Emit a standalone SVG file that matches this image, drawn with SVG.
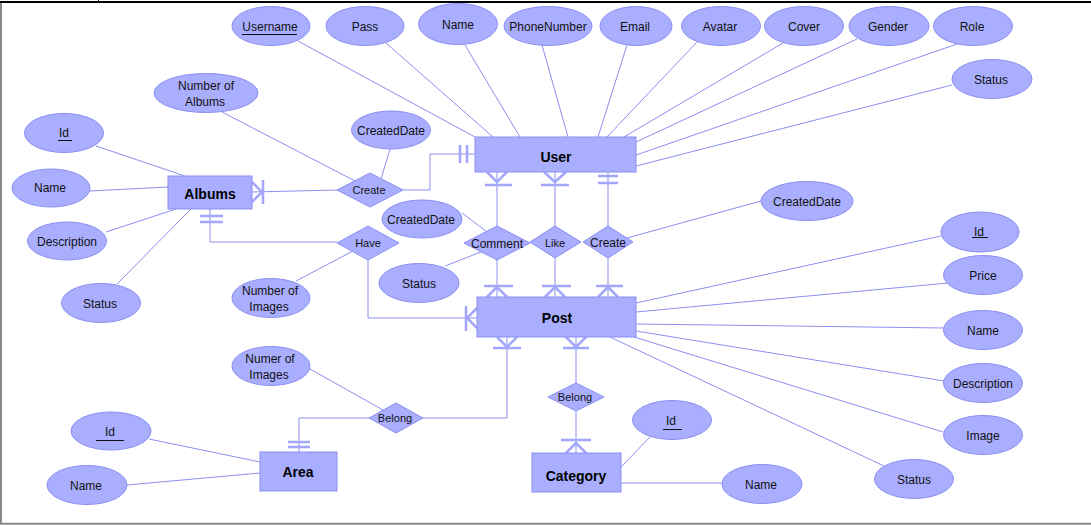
<svg xmlns="http://www.w3.org/2000/svg" width="1091" height="525" viewBox="0 0 1091 525">
<style>
.shape{fill:#aaaeff;stroke:#8a8ef2;stroke-width:1}
.ln{stroke:#8a8ef2;stroke-width:1;fill:none}
.cf{stroke:#a3a7fb;stroke-width:2.5;fill:none}
.ul{stroke:#111;stroke-width:1}
.t{font-family:"Liberation Sans",Arial,sans-serif;font-size:12px;fill:#111;text-anchor:middle}
.ts{font-family:"Liberation Sans",Arial,sans-serif;font-size:11px;fill:#111;text-anchor:middle}
.tb{font-family:"Liberation Sans",Arial,sans-serif;font-size:14px;font-weight:bold;fill:#000;text-anchor:middle}
</style>
<rect x="0" y="0" width="1091" height="525" fill="#ffffff"/>
<g id="frame">
<line x1="98.5" y1="0" x2="98.5" y2="1.5" stroke="#000" stroke-width="1"/>
<line x1="0" y1="2" x2="1091" y2="2" stroke="#000" stroke-width="2"/>
<line x1="1" y1="3" x2="1" y2="523" stroke="#888" stroke-width="2"/>
<line x1="0" y1="523.7" x2="1091" y2="523.7" stroke="#888" stroke-width="2"/>
</g>
<g id="connectors">
<!-- User attributes -->
<line class="ln" x1="298" y1="41" x2="475" y2="137"/>
<line class="ln" x1="386" y1="43" x2="493" y2="137"/>
<line class="ln" x1="465" y1="45" x2="520" y2="137"/>
<line class="ln" x1="542" y1="45" x2="568" y2="137"/>
<line class="ln" x1="627" y1="45" x2="598" y2="137"/>
<line class="ln" x1="697" y1="42" x2="607" y2="137"/>
<line class="ln" x1="783" y1="43" x2="624" y2="137"/>
<line class="ln" x1="857" y1="39" x2="636" y2="142"/>
<line class="ln" x1="957" y1="44" x2="636" y2="155"/>
<line class="ln" x1="952" y1="85" x2="636" y2="166"/>
<!-- Albums attributes -->
<line class="ln" x1="96" y1="146" x2="185" y2="176"/>
<line class="ln" x1="90" y1="191" x2="168" y2="187"/>
<line class="ln" x1="106" y1="232" x2="176" y2="209"/>
<line class="ln" x1="117" y1="284" x2="191" y2="209"/>
<!-- Create (Albums-User) -->
<line class="ln" x1="252" y1="192" x2="337" y2="190"/>
<line class="ln" x1="222" y1="112" x2="355" y2="181"/>
<line class="ln" x1="390" y1="149" x2="381" y2="179"/>
<polyline class="ln" points="403,190 430,190 430,154 475,154"/>
<!-- Have -->
<polyline class="ln" points="210,209 210,242 337,242"/>
<polyline class="ln" points="368,260 368,318 477,318"/>
<line class="ln" x1="296" y1="281" x2="353" y2="251"/>
<!-- User-Post relations -->
<line class="ln" x1="497" y1="172" x2="497" y2="226"/>
<line class="ln" x1="497" y1="260" x2="497" y2="297"/>
<line class="ln" x1="555" y1="172" x2="555" y2="226"/>
<line class="ln" x1="555" y1="258" x2="555" y2="297"/>
<line class="ln" x1="608" y1="172" x2="608" y2="226"/>
<line class="ln" x1="608" y1="258" x2="608" y2="297"/>
<line class="ln" x1="462" y1="213" x2="486" y2="231"/>
<line class="ln" x1="445" y1="266" x2="481" y2="252"/>
<line class="ln" x1="627" y1="238" x2="761" y2="201"/>
<!-- Post attributes -->
<line class="ln" x1="941" y1="236" x2="636" y2="303"/>
<line class="ln" x1="948" y1="283" x2="636" y2="312"/>
<line class="ln" x1="944" y1="328" x2="636" y2="324"/>
<line class="ln" x1="944" y1="381" x2="636" y2="331"/>
<line class="ln" x1="943" y1="432" x2="634" y2="337"/>
<line class="ln" x1="884" y1="466" x2="610" y2="337"/>
<!-- Belong relations -->
<polyline class="ln" points="423,418 507,418 507,337"/>
<polyline class="ln" points="369,418 299,418 299,452"/>
<line class="ln" x1="310" y1="369" x2="383" y2="410"/>
<line class="ln" x1="576" y1="337" x2="576" y2="383"/>
<line class="ln" x1="576" y1="411" x2="576" y2="453"/>
<!-- Category / Area attributes -->
<line class="ln" x1="651" y1="436" x2="621" y2="467"/>
<line class="ln" x1="621" y1="483" x2="722" y2="483"/>
<line class="ln" x1="149" y1="439" x2="260" y2="462"/>
<line class="ln" x1="127" y1="485" x2="260" y2="473"/>
<!-- cardinality marks -->
<path class="cf" d="M252,182 L262,192 L252,202 M263,180 V204"/>
<path class="cf" d="M200,216 H223 M200,222 H223"/>
<path class="cf" d="M460,145 V163 M467,145 V163"/>
<path class="cf" d="M477,308 L467,318 L477,328 M466,306 V331"/>
<path class="cf" d="M487,172 L497,182 L507,172 M485,185 H512"/>
<path class="cf" d="M544,172 L555,182 L566,172 M541,185 H569"/>
<path class="cf" d="M598,176 H618 M598,183 H618"/>
<path class="cf" d="M487,297 L497,287 L507,297 M484,286 H513"/>
<path class="cf" d="M545,297 L555,287 L565,297 M542,286 H571"/>
<path class="cf" d="M598,297 L608,287 L618,297 M596,286 H623"/>
<path class="cf" d="M497,337 L507,347 L517,337 M493,348 H521"/>
<path class="cf" d="M566,337 L576,347 L586,337 M563,348 H589"/>
<path class="cf" d="M566,453 L576,443 L586,453 M561,440 H591"/>
<path class="cf" d="M288,442 H310 M288,447 H310"/>
</g>
<!-- Entities -->
<g id="user"><rect class="shape" x="475" y="137" width="161" height="35"/><text class="tb" x="556" y="162">User</text></g>
<g id="albums"><rect class="shape" x="168" y="176" width="84" height="33"/><text class="tb" x="210" y="199">Albums</text></g>
<g id="post"><rect class="shape" x="477" y="297" width="159" height="40"/><text class="tb" x="557" y="323">Post</text></g>
<g id="area"><rect class="shape" x="260" y="452" width="77" height="39"/><text class="tb" x="298" y="477">Area</text></g>
<g id="category"><rect class="shape" x="532" y="453" width="89" height="39"/><text class="tb" x="576" y="481">Category</text></g>
<!-- Relationships -->
<g id="rel-create-albums"><polygon class="shape" points="337,190 370,173 403,190 370,207"/><text class="ts" x="369" y="194">Create</text></g>
<g id="rel-have"><polygon class="shape" points="337,243 368,226 399,243 368,260"/><text class="ts" x="368" y="247">Have</text></g>
<g id="rel-comment"><polygon class="shape" points="464,243 497,226 530,243 497,260"/><text class="t" x="497" y="248">Comment</text></g>
<g id="rel-like"><polygon class="shape" points="530,242 555,226 581,242 555,258"/><text class="ts" x="555" y="247">Like</text></g>
<g id="rel-create-post"><polygon class="shape" points="583,242 608,226 633,242 608,258"/><text class="t" x="608" y="247">Create</text></g>
<g id="rel-belong-category"><polygon class="shape" points="548,397 576,383 604,397 576,411"/><text class="ts" x="575" y="401">Belong</text></g>
<g id="rel-belong-area"><polygon class="shape" points="369,418 396,403 423,418 396,433"/><text class="ts" x="395" y="422">Belong</text></g>
<!-- User attributes -->
<g id="u-username"><ellipse class="shape" cx="271" cy="26" rx="39" ry="19.5"/><text class="t" x="270" y="31">Username</text><line class="ul" x1="242" y1="34.5" x2="297" y2="34.5"/></g>
<g id="u-pass"><ellipse class="shape" cx="365" cy="26" rx="39" ry="19.5"/><text class="t" x="365" y="31">Pass</text></g>
<g id="u-name"><ellipse class="shape" cx="458" cy="24" rx="39.5" ry="20.5"/><text class="t" x="458" y="29">Name</text></g>
<g id="u-phone"><ellipse class="shape" cx="548" cy="26" rx="44" ry="19.5"/><text class="t" x="548" y="31">PhoneNumber</text></g>
<g id="u-email"><ellipse class="shape" cx="636" cy="26" rx="36" ry="19.5"/><text class="t" x="635" y="31">Email</text></g>
<g id="u-avatar"><ellipse class="shape" cx="721" cy="26" rx="39.5" ry="19.5"/><text class="t" x="720" y="31">Avatar</text></g>
<g id="u-cover"><ellipse class="shape" cx="804" cy="26" rx="39.5" ry="19.5"/><text class="t" x="804" y="31">Cover</text></g>
<g id="u-gender"><ellipse class="shape" cx="889" cy="26" rx="40" ry="19.5"/><text class="t" x="888" y="31">Gender</text></g>
<g id="u-role"><ellipse class="shape" cx="973" cy="26" rx="39.5" ry="19.5"/><text class="t" x="972" y="31">Role</text></g>
<g id="u-status"><ellipse class="shape" cx="992" cy="79" rx="40" ry="19.5"/><text class="t" x="991" y="84">Status</text></g>
<!-- Albums related attributes -->
<g id="a-numalbums"><ellipse class="shape" cx="206" cy="93" rx="52" ry="19.5"/><text class="t" x="206" y="90">Number of</text><text class="t" x="205" y="106">Albums</text></g>
<g id="a-createddate"><ellipse class="shape" cx="391" cy="130" rx="39.5" ry="19"/><text class="t" x="391" y="135">CreatedDate</text></g>
<g id="a-id"><ellipse class="shape" cx="64" cy="133" rx="39.5" ry="19.5"/><text class="t" x="64" y="137">Id</text><line class="ul" x1="58" y1="140.5" x2="72" y2="140.5"/></g>
<g id="a-name"><ellipse class="shape" cx="51" cy="188" rx="39" ry="19"/><text class="t" x="50" y="192">Name</text></g>
<g id="a-description"><ellipse class="shape" cx="67" cy="241" rx="39.5" ry="19"/><text class="t" x="67" y="246">Description</text></g>
<g id="a-status"><ellipse class="shape" cx="101" cy="303" rx="39.5" ry="19.5"/><text class="t" x="100" y="308">Status</text></g>
<g id="h-numimages"><ellipse class="shape" cx="271" cy="298" rx="39" ry="19.5"/><text class="t" x="270" y="295">Number of</text><text class="t" x="269" y="311">Images</text></g>
<!-- Comment attributes -->
<g id="c-createddate"><ellipse class="shape" cx="422" cy="219" rx="40" ry="19"/><text class="t" x="421" y="224">CreatedDate</text></g>
<g id="c-status"><ellipse class="shape" cx="419" cy="283" rx="40" ry="19.5"/><text class="t" x="419" y="288">Status</text></g>
<g id="cp-createddate"><ellipse class="shape" cx="807" cy="201" rx="46" ry="19.5"/><text class="t" x="807" y="206">CreatedDate</text></g>
<!-- Post attributes -->
<g id="p-id"><ellipse class="shape" cx="980" cy="232" rx="39" ry="20"/><text class="t" x="979" y="236">Id</text><line class="ul" x1="972" y1="237.5" x2="988" y2="237.5"/></g>
<g id="p-price"><ellipse class="shape" cx="983" cy="275" rx="39.5" ry="19.5"/><text class="t" x="983" y="280">Price</text></g>
<g id="p-name"><ellipse class="shape" cx="983" cy="330" rx="39.5" ry="19.5"/><text class="t" x="983" y="335">Name</text></g>
<g id="p-description"><ellipse class="shape" cx="983" cy="383" rx="39.5" ry="19.5"/><text class="t" x="983" y="388">Description</text></g>
<g id="p-image"><ellipse class="shape" cx="983" cy="435" rx="39.5" ry="19.5"/><text class="t" x="983" y="440">Image</text></g>
<g id="p-status"><ellipse class="shape" cx="914" cy="479" rx="39.5" ry="19.5"/><text class="t" x="914" y="484">Status</text></g>
<!-- Area / Category attributes -->
<g id="b-numimages"><ellipse class="shape" cx="271" cy="366" rx="39" ry="19.5"/><text class="t" x="270" y="363">Numer of</text><text class="t" x="269" y="379">Images</text></g>
<g id="ar-id"><ellipse class="shape" cx="111" cy="431" rx="40" ry="19"/><text class="t" x="110" y="436">Id</text><line class="ul" x1="96" y1="440.5" x2="124" y2="440.5"/></g>
<g id="ar-name"><ellipse class="shape" cx="87" cy="485" rx="40" ry="19.5"/><text class="t" x="86" y="490">Name</text></g>
<g id="ca-id"><ellipse class="shape" cx="672" cy="420" rx="39.5" ry="19.5"/><text class="t" x="671" y="425">Id</text><line class="ul" x1="663" y1="429.5" x2="682" y2="429.5"/></g>
<g id="ca-name"><ellipse class="shape" cx="762" cy="484" rx="40" ry="19.5"/><text class="t" x="761" y="489">Name</text></g>
</svg>
